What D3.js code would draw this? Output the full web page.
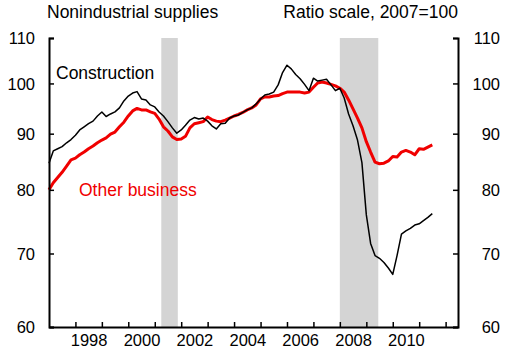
<html>
<head>
  <meta charset="utf-8">
  <script src="https://d3js.org/d3.v7.min.js"></script>
  <script>
    // index 2007=100, sampled every two months from Jan 1997
    var start = new Date(1997, 0, 1);

    var construction = [
      84.6, 86.8, 87.2, 87.6, 88.3, 88.9,   // 1997
      89.7, 90.7, 91.3, 91.9, 92.4, 93.4,   // 1998
      94.2, 93.3, 93.8, 94.2, 95.0, 96.4,   // 1999
      97.4, 98.0, 98.3, 96.8, 96.6, 95.6,   // 2000
      95.2, 94.2, 93.4, 92.3, 91.1, 90.1,   // 2001
      90.7, 91.6, 92.6, 93.1, 92.8, 93.0,   // 2002
      92.4, 91.5, 90.9, 91.9, 92.0, 93.0,   // 2003
      93.4, 93.6, 94.1, 94.6, 95.0, 95.8,   // 2004
      96.8, 97.6, 97.8, 98.2, 99.7, 102.3,  // 2005
      103.9, 103.1, 101.9, 101.0, 99.8, 98.5, // 2006
      101.1, 100.5, 100.7, 100.9, 99.7, 98.5, // 2007
      99.0, 97.0, 93.8, 91.5, 88.8, 84.7,   // 2008
      75.9, 71.5, 69.7, 69.3, 68.7, 67.9,   // 2009
      67.0, 69.7, 72.9, 73.4, 73.8, 74.3,   // 2010
      74.5, 75.0, 75.5, 76.1                // 2011
    ];

    var otherBusiness = [
      80.0, 81.2, 82.1, 83.0, 84.1, 85.2,
      85.5, 86.1, 86.6, 87.2, 87.7, 88.3,
      88.8, 89.2, 89.9, 90.3, 91.3, 92.2,
      93.4, 94.4, 94.9, 94.6, 94.6, 94.2,
      93.9, 92.8, 91.3, 90.5, 89.4, 88.9,
      89.0, 89.5, 91.1, 91.9, 92.1, 92.3,
      93.2, 92.7, 92.4, 92.3, 92.6, 93.0,
      93.4, 93.7, 94.1, 94.6, 95.0, 95.6,
      96.8, 97.2, 97.2, 97.4, 97.5, 97.9,
      98.2, 98.2, 98.2, 98.2, 98.0, 98.2,
      99.2, 100.1, 100.3, 100.1, 99.8, 99.5,
      99.0, 98.2, 96.6, 94.8, 93.0, 91.1,
      88.5, 86.6, 84.8, 84.5, 84.6, 85.0,
      85.8, 85.7, 86.6, 86.9, 86.6, 86.1,
      87.2, 87.1, 87.5, 87.9
    ];

    var recessions = [ ["2001-04-01", "2001-11-15"], ["2008-01-01", "2009-06-15"] ];
    var yTicks = [60, 70, 80, 90, 100, 110];
    var yearLabels = [1998, 2000, 2002, 2004, 2006, 2008, 2010];

    function makeChart() {
      var font = "'Liberation Sans', Arial, sans-serif";
      var svg = d3.select("#chart");
      var left = 49, right = 458, top = 38, bottom = 327;

      var x = d3.scaleTime()
          .domain([new Date(1997, 0, 1), new Date(2012, 5, 20)])
          .range([left, right]);
      var y = d3.scaleLog().domain([60, 110]).range([bottom, top]);

      var dates = construction.map((d, i) => d3.timeMonth.offset(start, 2 * i));
      var parse = d3.timeParse("%Y-%m-%d");

      // recession bars
      svg.append("g").selectAll("rect").data(recessions).enter().append("rect")
          .attr("x", d => x(parse(d[0])))
          .attr("width", d => x(parse(d[1])) - x(parse(d[0])))
          .attr("y", top).attr("height", bottom - top)
          .attr("fill", "#d4d4d4");

      var line = d3.line().x((d, i) => x(dates[i])).y(d => y(d));

      svg.append("path").datum(otherBusiness).attr("d", line)
          .attr("fill", "none").attr("stroke", "#f00000").attr("stroke-width", 3)
          .attr("stroke-linejoin", "round");
      svg.append("path").datum(construction).attr("d", line)
          .attr("fill", "none").attr("stroke", "#000").attr("stroke-width", 1.5)
          .attr("stroke-linejoin", "round");

      // axes
      var gl = svg.append("g").attr("transform", "translate(" + left + ",0)")
          .call(d3.axisLeft(y).tickValues(yTicks).tickFormat(d3.format("d"))
                .tickSizeInner(-5).tickSizeOuter(-5).tickPadding(14));
      var gr = svg.append("g").attr("transform", "translate(" + right + ",0)")
          .call(d3.axisRight(y).tickValues(yTicks).tickFormat(d3.format("d"))
                .tickSizeInner(-5).tickSizeOuter(-5).tickPadding(14));
      gr.selectAll("text").attr("x", 42).attr("text-anchor", "end");

      var gb = svg.append("g").attr("transform", "translate(0," + bottom + ")")
          .call(d3.axisBottom(x).tickValues(d3.timeYear.range(new Date(1998, 0, 1), new Date(2013, 0, 1)))
                .tickFormat("").tickSizeInner(-5).tickSizeOuter(0));
      var gt = svg.append("g").attr("transform", "translate(0," + bottom + ")")
          .call(d3.axisBottom(x).tickValues(yearLabels.map(d => new Date(d, 6, 2)))
                .tickFormat(d3.timeFormat("%Y")).tickSize(0).tickPadding(7));
      gt.select(".domain").remove();

      svg.selectAll(".domain").attr("stroke-width", 2);
      svg.selectAll(".tick line").attr("stroke-width", 1.5);
      svg.selectAll(".tick text").attr("font-family", font).attr("font-size", 16.5).attr("fill", "#000");
      gl.selectAll(".tick text").attr("dy", "0.34em");
      gr.selectAll(".tick text").attr("dy", "0.34em");

      // titles and labels
      svg.append("text").attr("x", 47).attr("y", 18).text("Nonindustrial supplies")
          .attr("font-family", font).attr("font-size", 17.5);
      svg.append("text").attr("x", 458).attr("y", 18).attr("text-anchor", "end")
          .text("Ratio scale, 2007=100")
          .attr("font-family", font).attr("font-size", 17.5);
      svg.append("text").attr("x", 56).attr("y", 79).text("Construction")
          .attr("font-family", font).attr("font-size", 17.5);
      svg.append("text").attr("x", 79).attr("y", 196).text("Other business")
          .attr("font-family", font).attr("font-size", 17.5).attr("fill", "#f00000");
    }
  </script>
</head>

<body onload="makeChart()" style="margin:0">
  <svg id="chart" width="506" height="351" style="background: white; display:block"></svg>
</body>
</html>
